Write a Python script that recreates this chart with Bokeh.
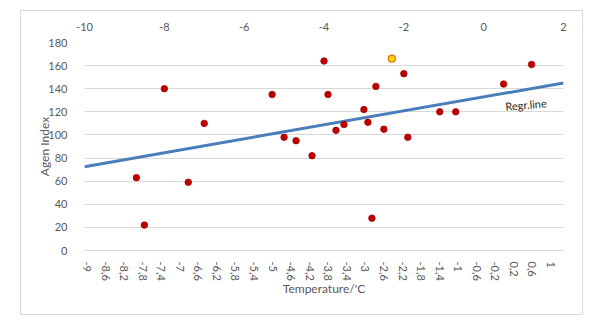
import math
from bokeh.plotting import figure
from bokeh.models import Range1d, LinearAxis, FixedTicker, Label
from bokeh.embed import file_html
from bokeh.resources import INLINE

# ---- data ----
temp = [-8.7, -8.5, -8.0, -7.4, -7.0, -5.3, -5.0, -4.7, -4.3, -4.0, -3.9, -3.7,
        -3.5, -3.0, -2.9, -2.8, -2.7, -2.5, -2.0, -1.9, -1.1, -0.7, 0.5, 1.2]
agen = [63, 22, 140, 59, 110, 135, 98, 95, 82, 164, 135, 104,
        109, 122, 111, 28, 142, 105, 153, 98, 120, 120, 144, 161]
highlight_temp = [-2.3]
highlight_agen = [166]
regr_x = [-10, 2]
regr_y = [72.5, 145]
top_ticks = [-10, -8, -6, -4, -2, 0, 2]
y_ticks = [0, 20, 40, 60, 80, 100, 120, 140, 160, 180]
bottom_labels = ["-9", "-8,6", "-8,2", "-7,8", "-7,4", "-7", "-6,6", "-6,2", "-5,8",
                 "-5,4", "-5", "-4,6", "-4,2", "-3,8", "-3,4", "-3", "-2,6", "-2,2",
                 "-1,8", "-1,4", "-1", "-0,6", "-0,2", "0,2", "0,6", "1"]
bottom_ticks = [float(s.replace(",", ".")) for s in bottom_labels]

FONT = "Lato"
GRID = "#D9D9D9"
TXT = "#595959"
TICK_FS = "11px"

p = figure(output_backend="svg", toolbar_location=None,
           width=561, height=303, frame_width=479, frame_height=208,
           min_border_left=63, min_border_right=19, min_border_top=31, min_border_bottom=64,
           x_range=Range1d(-10, 2), y_range=Range1d(0, 180),
           x_axis_location="above")
p.margin = (11, 12, 14, 21)
p.styles = {"outline": "1px solid #D9D9D9"}
p.outline_line_color = None
p.background_fill_color = "white"
p.border_fill_color = "white"

# top axis
xa = p.xaxis[0]
xa.ticker = FixedTicker(ticks=top_ticks)
xa.major_label_overrides = {t: str(t) for t in top_ticks}
xa.axis_line_color = None
xa.major_tick_line_color = None
xa.minor_tick_line_color = None
xa.major_label_standoff = 6
xa.major_label_text_font = FONT
xa.major_label_text_font_size = TICK_FS
xa.major_label_text_color = TXT
p.xgrid.visible = False

# y axis
ya = p.yaxis[0]
ya.ticker = FixedTicker(ticks=y_ticks)
ya.major_label_overrides = {t: str(t) for t in y_ticks}
ya.axis_line_color = None
ya.major_tick_line_color = None
ya.minor_tick_line_color = None
ya.major_label_standoff = 11
ya.major_label_text_font = FONT
ya.major_label_text_font_size = TICK_FS
ya.major_label_text_color = TXT
ya.axis_label = "Agen Index"
ya.axis_label_text_font = FONT
ya.axis_label_text_font_size = "12px"
ya.axis_label_text_font_style = "normal"
ya.axis_label_text_color = TXT
ya.axis_label_standoff = -7
p.ygrid.ticker = FixedTicker(ticks=y_ticks)
p.ygrid.grid_line_color = GRID

# bottom category-like axis
p.extra_x_ranges = {"cat": Range1d(-9.054, 1.269)}
ba = LinearAxis(x_range_name="cat", ticker=FixedTicker(ticks=bottom_ticks))
ba.major_label_overrides = {t: s for t, s in zip(bottom_ticks, bottom_labels)}
ba.major_label_orientation = -math.pi / 2
ba.axis_line_color = GRID
ba.major_tick_line_color = None
ba.minor_tick_line_color = None
ba.major_label_standoff = 5
ba.major_label_text_font = FONT
ba.major_label_text_font_size = TICK_FS
ba.major_label_text_color = TXT
ba.axis_label = "Temperature/'C"
ba.axis_label_text_font = FONT
ba.axis_label_text_font_size = "12px"
ba.axis_label_text_font_style = "normal"
ba.axis_label_text_color = TXT
ba.axis_label_standoff = -3
p.add_layout(ba, "below")

# regression line
p.line(regr_x, regr_y, line_color="#4A7EBB", line_width=3)

# scatter points
p.scatter(temp, agen, size=6.5, fill_color="#C00000", line_color="#A00000", line_width=0.8)
p.scatter(highlight_temp, highlight_agen, size=7, fill_color="#FFD700",
          line_color="#E46C0A", line_width=1.2)

p.add_layout(Label(x=1.06, y=126.3, text="Regr.line", angle=5, angle_units="deg",
                   text_align="center", text_baseline="middle",
                   text_font=FONT, text_font_size="11px", text_color="#262626"))

open("out.html", "w").write(file_html(p, INLINE))
